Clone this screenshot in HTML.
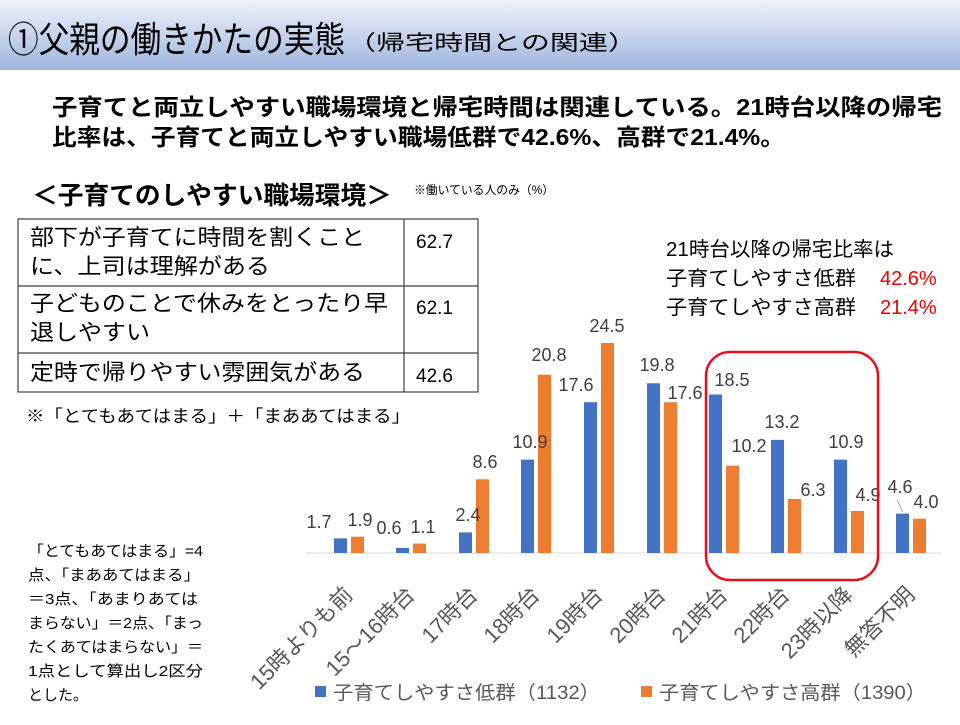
<!DOCTYPE html>
<html><head><meta charset="utf-8"><style>
body{margin:0;width:960px;height:720px;overflow:hidden;background:#fff;font-family:"Liberation Sans","Noto Sans CJK JP",sans-serif;}
</style></head><body>
<svg width="960" height="720" xmlns="http://www.w3.org/2000/svg" font-family="'Liberation Sans','Noto Sans CJK JP',sans-serif">
<defs><linearGradient id="hg" x1="0" y1="0" x2="0" y2="1"><stop offset="0" stop-color="#eef2f9"/><stop offset="1" stop-color="#9fb6df"/></linearGradient></defs>
<rect x="0" y="0" width="960" height="70" fill="url(#hg)"/>
<text x="8" y="52" font-size="36" fill="#000" textLength="337" lengthAdjust="spacingAndGlyphs">①父親の働きかたの実態</text>
<text x="347" y="50" font-size="21" fill="#000" textLength="290" lengthAdjust="spacingAndGlyphs">（帰宅時間との関連）</text>
<text x="52" y="115" font-size="23" font-weight="bold" fill="#000" textLength="890" lengthAdjust="spacingAndGlyphs">子育てと両立しやすい職場環境と帰宅時間は関連している。21時台以降の帰宅</text>
<text x="52" y="145" font-size="23" font-weight="bold" fill="#000" textLength="733" lengthAdjust="spacingAndGlyphs">比率は、子育てと両立しやすい職場低群で42.6%、高群で21.4%。</text>
<text x="32" y="204" font-size="25" font-weight="bold" fill="#000" textLength="360" lengthAdjust="spacingAndGlyphs">＜子育てのしやすい職場環境＞</text>
<text x="414" y="194" font-size="12" fill="#000" textLength="140" lengthAdjust="spacingAndGlyphs">※働いている人のみ（%）</text>
<g stroke="#404040" stroke-width="1.2" fill="none">
<rect x="18" y="219" width="460" height="173"/>
<line x1="404" y1="219" x2="404" y2="392"/>
<line x1="18" y1="286" x2="478" y2="286"/>
<line x1="18" y1="353" x2="478" y2="353"/>
</g>
<g font-size="22" fill="#000">
<text x="30" y="245" textLength="335" lengthAdjust="spacingAndGlyphs">部下が子育てに時間を割くこと</text>
<text x="30" y="274" textLength="240" lengthAdjust="spacingAndGlyphs">に、上司は理解がある</text>
<text x="30" y="311" textLength="358" lengthAdjust="spacingAndGlyphs">子どものことで休みをとったり早</text>
<text x="30" y="340" textLength="120" lengthAdjust="spacingAndGlyphs">退しやすい</text>
<text x="30" y="380" textLength="335" lengthAdjust="spacingAndGlyphs">定時で帰りやすい雰囲気がある</text>
</g>
<g font-size="19" fill="#000"><text x="416" y="248">62.7</text><text x="416" y="314">62.1</text><text x="416" y="382">42.6</text></g>
<text x="26" y="422" font-size="17" fill="#000" textLength="384" lengthAdjust="spacingAndGlyphs">※「とてもあてはまる」＋「まああてはまる」</text>
<g font-size="20" fill="#000"><text x="666" y="256" textLength="228" lengthAdjust="spacingAndGlyphs">21時台以降の帰宅比率は</text>
<text x="666" y="285" textLength="190" lengthAdjust="spacingAndGlyphs">子育てしやすさ低群</text><text x="880" y="285" fill="#e00">42.6%</text>
<text x="666" y="314" textLength="190" lengthAdjust="spacingAndGlyphs">子育てしやすさ高群</text><text x="880" y="314" fill="#e00">21.4%</text></g>
<g font-size="15" fill="#000">
<text x="28" y="556" textLength="175" lengthAdjust="spacingAndGlyphs">「とてもあてはまる」=4</text>
<text x="28" y="580" textLength="172" lengthAdjust="spacingAndGlyphs">点、「まああてはまる」</text>
<text x="28" y="604" textLength="170" lengthAdjust="spacingAndGlyphs">＝3点、「あまりあては</text>
<text x="28" y="628" textLength="175" lengthAdjust="spacingAndGlyphs">まらない」＝2点、「まっ</text>
<text x="28" y="652" textLength="175" lengthAdjust="spacingAndGlyphs">たくあてはまらない」＝</text>
<text x="28" y="676" textLength="175" lengthAdjust="spacingAndGlyphs">1点として算出し2区分</text>
<text x="28" y="700">とした。</text>
</g>
<line x1="305" y1="553" x2="942" y2="553" stroke="#d9d9d9" stroke-width="1"/>
<g fill="#4472c4">
<rect x="334" y="538.4" width="13" height="14.6"/>
<rect x="396" y="547.9" width="13" height="5.1"/>
<rect x="459" y="532.4" width="13" height="20.6"/>
<rect x="521" y="459.6" width="13" height="93.4"/>
<rect x="584" y="402.2" width="13" height="150.8"/>
<rect x="647" y="383.3" width="13" height="169.7"/>
<rect x="709" y="394.5" width="13" height="158.5"/>
<rect x="771" y="439.9" width="13" height="113.1"/>
<rect x="834" y="459.6" width="13" height="93.4"/>
<rect x="896" y="513.6" width="13" height="39.4"/>
</g>
<g fill="#ed7d31">
<rect x="351" y="536.7" width="13" height="16.3"/>
<rect x="413" y="543.6" width="13" height="9.4"/>
<rect x="476" y="479.3" width="13" height="73.7"/>
<rect x="538" y="374.7" width="13" height="178.3"/>
<rect x="601" y="343" width="13" height="210"/>
<rect x="664" y="402.2" width="13" height="150.8"/>
<rect x="726" y="465.6" width="13" height="87.4"/>
<rect x="788" y="499" width="13" height="54"/>
<rect x="851" y="511" width="13" height="42"/>
<rect x="913" y="518.7" width="13" height="34.3"/>
</g>
<g font-size="18" fill="#404040" text-anchor="middle">
<text x="319" y="528">1.7</text><text x="360" y="526">1.9</text>
<text x="389" y="534">0.6</text><text x="423" y="533">1.1</text>
<text x="468" y="521">2.4</text><text x="485" y="468">8.6</text>
<text x="530" y="448">10.9</text><text x="549" y="361">20.8</text>
<text x="576" y="391">17.6</text><text x="607" y="332">24.5</text>
<text x="657" y="371">19.8</text><text x="685" y="399">17.6</text>
<text x="732" y="386">18.5</text><text x="749" y="452">10.2</text>
<text x="782" y="428">13.2</text><text x="813" y="496">6.3</text>
<text x="846" y="448">10.9</text><text x="868" y="501">4.9</text>
<text x="900" y="493">4.6</text><text x="926" y="508">4.0</text>
</g>
<line x1="897" y1="500" x2="903" y2="512" stroke="#a6a6a6" stroke-width="1"/>
<rect x="706" y="352" width="172" height="228" rx="24" fill="none" stroke="#e3101c" stroke-width="2.5"/>
<g font-size="22" fill="#595959" text-anchor="end">
<text transform="translate(354,596) rotate(-45)">15時よりも前</text>
<text transform="translate(416,596) rotate(-45)">15～16時台</text>
<text transform="translate(479,596) rotate(-45)">17時台</text>
<text transform="translate(541,596) rotate(-45)">18時台</text>
<text transform="translate(604,596) rotate(-45)">19時台</text>
<text transform="translate(667,596) rotate(-45)">20時台</text>
<text transform="translate(729,596) rotate(-45)">21時台</text>
<text transform="translate(791,596) rotate(-45)">22時台</text>
<text transform="translate(854,596) rotate(-45)">23時以降</text>
<text transform="translate(916,596) rotate(-45)">無答不明</text>
</g>
<rect x="315" y="686" width="11" height="11" fill="#4472c4"/>
<text x="333" y="699" font-size="19" fill="#595959" textLength="267" lengthAdjust="spacingAndGlyphs">子育てしやすさ低群（1132）</text>
<rect x="641" y="686" width="11" height="11" fill="#ed7d31"/>
<text x="659" y="699" font-size="19" fill="#595959" textLength="267" lengthAdjust="spacingAndGlyphs">子育てしやすさ高群（1390）</text>
</svg>
</body></html>
